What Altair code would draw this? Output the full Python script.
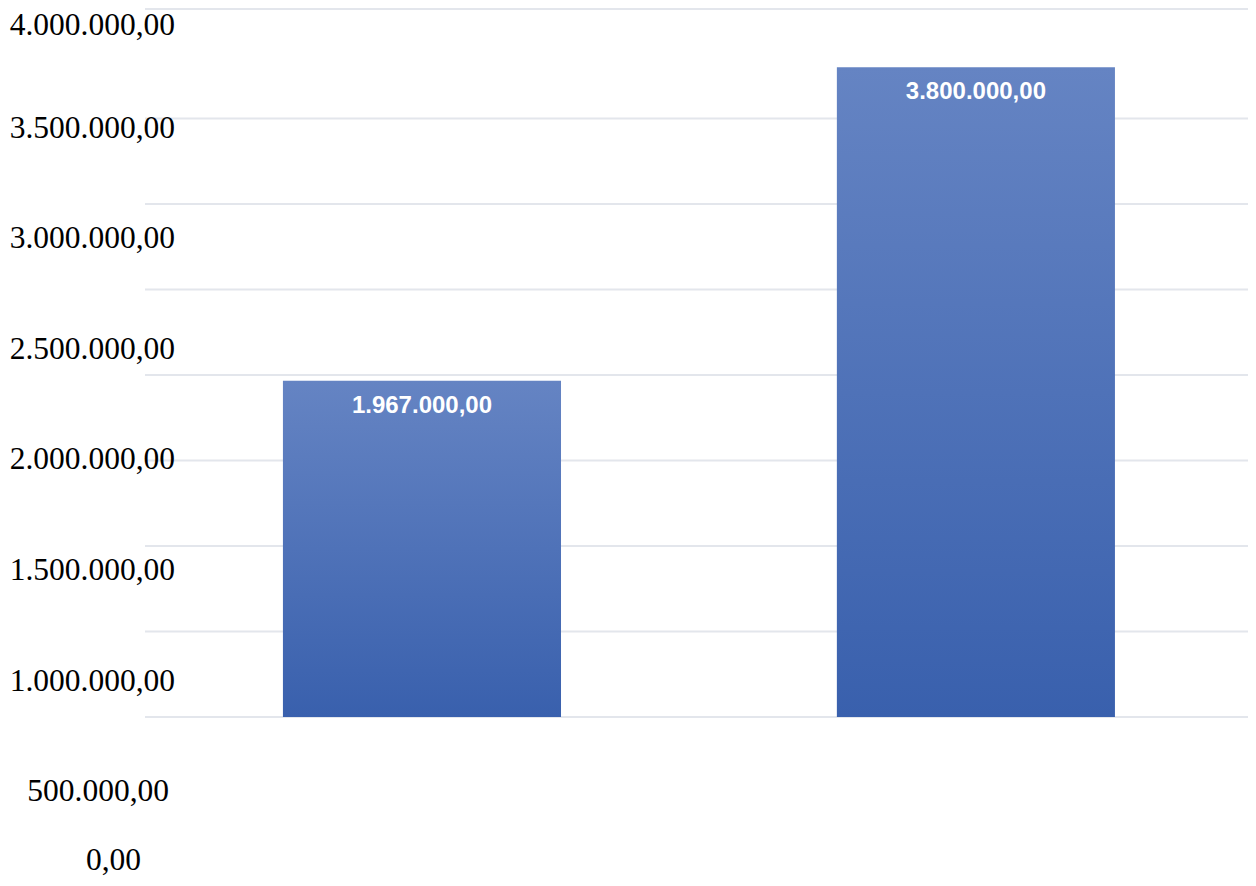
import altair as alt
import pandas as pd

# ---- data ----
categories = ["A", "B"]
values = [1967000, 3800000]
grid_values = [0, 500000, 1000000, 1500000, 2000000, 2500000, 3000000, 3500000]
tick_values = [4000000, 3500000, 3000000, 2500000, 2000000, 1500000, 1000000, 500000, 0]


def de_fmt(v):
    s = f"{v:,.2f}"
    return s.replace(",", "X").replace(".", ",").replace("X", ".")


bars_df = pd.DataFrame({"cat": categories, "value": values,
                        "label": [de_fmt(v) for v in values]})
grid_df = pd.DataFrame({"g": grid_values})
ticks_df = pd.DataFrame({"t": tick_values, "label": [de_fmt(v) for v in tick_values]})

W = 1103
H = 862

y_bar = alt.Scale(domain=[-941520, 4099415], nice=False, zero=False)
y_lab = alt.Scale(domain=[112470, 4009000], nice=False, zero=False)

x_enc = alt.X("cat:N", sort=categories,
              scale=alt.Scale(paddingInner=0.498, paddingOuter=0.2446, align=0.509),
              axis=None)

grid = alt.Chart(grid_df).mark_rule(color="#E3E6EC", strokeWidth=2).encode(
    y=alt.Y("g:Q", scale=y_bar, axis=None),
    x=alt.value(0), x2=alt.value(W),
)
topline = alt.Chart(grid_df).mark_rule(color="#E3E6EC", strokeWidth=2).encode(
    y=alt.value(-7), x=alt.value(0), x2=alt.value(W),
)

grad = alt.Gradient(
    gradient="linear",
    stops=[alt.GradientStop(color="#6584C3", offset=0),
           alt.GradientStop(color="#3960AD", offset=1)],
    x1=0, x2=0, y1=0, y2=1,
)

bars = alt.Chart(bars_df).mark_bar(color=grad).encode(
    x=x_enc,
    y=alt.Y("value:Q", scale=y_bar, axis=None),
)

bar_text = alt.Chart(bars_df).mark_text(
    font="Liberation Sans", fontWeight="bold", fontSize=24, color="white",
    baseline="middle", dy=25,
).encode(
    x=x_enc,
    y=alt.Y("value:Q", scale=y_bar, axis=None),
    text="label:N",
)

lab_common = dict(font="Liberation Serif", fontSize=31.5, color="black",
                  align="right", baseline="middle")

labels_top = alt.Chart(ticks_df).transform_filter(
    alt.datum.t == 4000000
).mark_text(dy=8, **lab_common).encode(
    y=alt.Y("t:Q", scale=y_lab, axis=None),
    x=alt.value(30),
    text="label:N",
)
labels_main = alt.Chart(ticks_df).transform_filter(
    (alt.datum.t >= 1000000) & (alt.datum.t < 4000000)
).mark_text(**lab_common).encode(
    y=alt.Y("t:Q", scale=y_lab, axis=None),
    x=alt.value(30),
    text="label:N",
)
labels_500 = alt.Chart(ticks_df).transform_filter(
    alt.datum.t == 500000
).mark_text(dx=-6, **lab_common).encode(
    y=alt.Y("t:Q", scale=y_lab, axis=None),
    x=alt.value(30),
    text="label:N",
)
labels_0 = alt.Chart(ticks_df).transform_filter(
    alt.datum.t == 0
).mark_text(dx=-34, dy=-42, **lab_common).encode(
    y=alt.Y("t:Q", scale=y_lab, axis=None),
    x=alt.value(30),
    text="label:N",
)

plot = alt.layer(grid, topline, bars, bar_text)
labs = alt.layer(labels_top, labels_main, labels_500, labels_0)

chart = alt.layer(plot, labs).resolve_scale(y="independent").properties(
    width=W, height=H,
    autosize=alt.AutoSizeParams(type="none"),
    padding={"left": 137, "top": 8, "right": 0, "bottom": 0},
).configure_view(stroke=None)

chart.save("out.html", embed_options={"renderer": "svg", "actions": False})
